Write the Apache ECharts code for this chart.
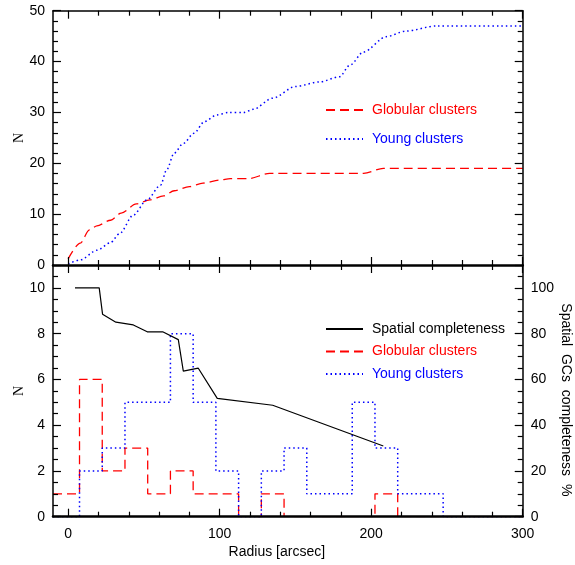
<!DOCTYPE html>
<html>
<head>
<meta charset="utf-8">
<script src="https://cdn.jsdelivr.net/npm/echarts@6/dist/echarts.min.js"></script>
<style>html,body{margin:0;padding:0;background:#fff;}#c{width:575px;height:565px;}</style>
</head>
<body>
<div id="c"></div>
<script>
// ---- data ----
var xMin = -10, xMax = 300;
// top panel: cumulative numbers vs radius
var globCumX = [0, 8, 14, 19, 28, 35, 45, 54, 63, 70, 80, 89, 100, 107, 119, 133, 195, 208, 300];
var globCumY = [1.2, 4.3, 6.9, 7.7, 8.8, 10.2, 12.0, 12.8, 13.6, 14.6, 15.4, 16.1, 16.7, 17.0, 17.0, 18.0, 18.0, 19.0, 19.0];
var youngCumX = [0, 8, 19, 28, 34, 43, 52, 61, 65, 70, 76, 83, 90, 98, 106, 116, 122, 135, 150, 166, 179, 186, 195, 210, 223, 243, 300];
var youngCumY = [0.2, 1.0, 2.9, 4.4, 6.2, 9.8, 12.8, 15.7, 18.7, 22.0, 23.9, 25.9, 28.2, 29.5, 30.0, 30.0, 30.6, 32.8, 35.1, 36.0, 37.0, 39.3, 41.9, 44.9, 46.0, 47.0, 47.0];
// bottom panel: histograms (bin centres, width 15)
var binCenters = [0, 15, 30, 45, 60, 75, 90, 105, 120, 135, 150, 165, 180, 195, 210, 225, 240, 255, 270, 285, 300];
var globCounts = [1, 6, 2, 3, 1, 2, 1, 1, 0, 1, 0, 0, 0, 0, 1, 0, 0, 0, 0, 0, 0];
var youngCounts = [0, 2, 3, 5, 5, 8, 5, 2, 0, 2, 3, 1, 1, 5, 3, 1, 1, 0, 0, 0, 0];
// spatial completeness (%)
var compX = [4.5, 20.5, 22.7, 31.5, 43, 52.2, 62.4, 72.7, 76, 85.9, 98.4, 135, 208];
var compPct = [100, 100, 88.5, 85, 83.8, 80.8, 80.8, 77.4, 63.6, 64.9, 51.7, 48.7, 30.9];
// ticks
var xMajor = [0, 100, 200, 300];
var xMinor = [20, 40, 60, 80, 120, 140, 160, 180, 220, 240, 260, 280];
var topYMajor = [0, 10, 20, 30, 40, 50];
var topYMinor = [2, 4, 6, 8, 12, 14, 16, 18, 22, 24, 26, 28, 32, 34, 36, 38, 42, 44, 46, 48];
var botYMajor = [0, 2, 4, 6, 8, 10];
var botYMinor = [0.5, 1, 1.5, 2.5, 3, 3.5, 4.5, 5, 5.5, 6.5, 7, 7.5, 8.5, 9, 9.5, 10.5];
var pctMajor = [0, 20, 40, 60, 80, 100];
var pctMinor = [5, 10, 15, 25, 30, 35, 45, 50, 55, 65, 70, 75, 85, 90, 95, 105];

// ---- helpers ----
function pairs(xs, ys) { return xs.map(function (x, i) { return [x, ys[i]]; }); }
var FONT = "'Liberation Sans', Arial, Helvetica, sans-serif";

function axis(o) {
  var a = {
    type: 'value', gridIndex: o.grid, position: o.pos, min: o.min, max: o.max,
    axisLine: { show: !!o.line, onZero: false, lineStyle: { color: '#000', width: o.line || 1 } },
    axisTick: { show: true, inside: true, length: o.len, customValues: o.ticks, lineStyle: { color: '#000', width: 1.2 } },
    axisLabel: { show: false },
    splitLine: { show: false },
    z: 5
  };
  if (o.labels) {
    a.axisLabel = { show: true, customValues: o.labels, margin: 8, color: '#000', fontSize: 14, fontFamily: FONT };
  }
  if (o.name) {
    a.name = o.name; a.nameLocation = 'middle'; a.nameGap = o.nameGap;
    a.nameMoveOverlap = false;
    a.nameTextStyle = o.nameStyle;
    if (o.nameRotate !== undefined) a.nameRotate = o.nameRotate;
  }
  return a;
}

var xAxes = [
  axis({ grid: 0, pos: 'bottom', min: xMin, max: xMax, line: 2.5, ticks: xMinor, len: 5 }),
  axis({ grid: 0, pos: 'bottom', min: xMin, max: xMax, ticks: xMajor, len: 8 }),
  axis({ grid: 0, pos: 'top', min: xMin, max: xMax, line: 1.5, ticks: xMinor, len: 5 }),
  axis({ grid: 0, pos: 'top', min: xMin, max: xMax, ticks: xMajor, len: 8 }),
  axis({ grid: 1, pos: 'bottom', min: xMin, max: xMax, line: 2.5, ticks: xMinor, len: 5 }),
  axis({ grid: 1, pos: 'bottom', min: xMin, max: xMax, ticks: xMajor, len: 8, labels: xMajor,
         name: 'Radius [arcsec]', nameGap: 28, nameStyle: { color: '#000', fontSize: 14, fontFamily: FONT, padding: [0, 22, 0, 0] } }),
  axis({ grid: 1, pos: 'top', min: xMin, max: xMax, ticks: xMinor, len: 5 }),
  axis({ grid: 1, pos: 'top', min: xMin, max: xMax, ticks: xMajor, len: 8 })
];
xAxes[5].axisLabel.margin = 10;

var nStyle = { color: '#000', fontSize: 14, fontFamily: "'Liberation Serif', 'Times New Roman', serif" };
var yAxes = [
  axis({ grid: 0, pos: 'left', min: 0, max: 50, line: 1.5, ticks: topYMinor, len: 5 }),
  axis({ grid: 0, pos: 'left', min: 0, max: 50, ticks: topYMajor, len: 8, labels: topYMajor,
         name: 'N', nameGap: 27, nameStyle: nStyle }),
  axis({ grid: 0, pos: 'right', min: 0, max: 50, line: 1.5, ticks: topYMinor, len: 5 }),
  axis({ grid: 0, pos: 'right', min: 0, max: 50, ticks: topYMajor, len: 8 }),
  axis({ grid: 1, pos: 'left', min: 0, max: 11, line: 1.5, ticks: botYMinor, len: 5 }),
  axis({ grid: 1, pos: 'left', min: 0, max: 11, ticks: botYMajor, len: 8, labels: botYMajor,
         name: 'N', nameGap: 27, nameStyle: nStyle }),
  axis({ grid: 1, pos: 'right', min: 0, max: 110, line: 1.5, ticks: pctMinor, len: 5 }),
  axis({ grid: 1, pos: 'right', min: 0, max: 110, ticks: pctMajor, len: 8, labels: pctMajor,
         name: 'Spatial  GCs  completeness  %', nameGap: 36, nameRotate: -90,
         nameStyle: { color: '#000', fontSize: 14, fontFamily: FONT, padding: [0, 0, 0, 18] } })
];

var RED = '#ff0000', BLUE = '#0000ff';
var redLine = { color: RED, width: 1.3, type: [9, 5] };
var blueLine = { color: BLUE, width: 1.5, type: [1.5, 3] };

function histData(counts) {
  return [[xMin, counts[0]]].concat(pairs(binCenters, counts));
}

var legendBase = {
  left: 325, orient: 'vertical', itemWidth: 37, itemHeight: 14, padding: 0,
  selectedMode: false, itemStyle: { opacity: 0 },
  textStyle: { fontSize: 14, fontFamily: FONT, padding: [0, 0, 0, 4] }
};

var option = {
  animation: false,
  backgroundColor: '#fff',
  grid: [
    { left: 53, right: 52.3, top: 10.7, height: 254.3, outerBoundsMode: 'none', containLabel: false },
    { left: 53, right: 52.3, top: 265, height: 251.7, outerBoundsMode: 'none', containLabel: false }
  ],
  xAxis: xAxes,
  yAxis: yAxes,
  legend: [
    Object.assign({}, legendBase, { top: 103, itemGap: 15,
      data: [ { name: 'Globular clusters', textStyle: { color: RED } },
              { name: 'Young clusters', textStyle: { color: BLUE } } ] }),
    Object.assign({}, legendBase, { top: 322, itemGap: 8.5,
      data: [ { name: 'Spatial completeness', textStyle: { color: '#000' } },
              { name: 'Globular clusters', textStyle: { color: RED } },
              { name: 'Young clusters', textStyle: { color: BLUE } } ] })
  ],
  series: [
    { name: 'Globular clusters', type: 'line', xAxisIndex: 0, yAxisIndex: 0, data: pairs(globCumX, globCumY),
      showSymbol: false, symbol: 'none', smooth: 0.3, smoothMonotone: 'x', lineStyle: redLine, itemStyle: { color: RED } },
    { name: 'Young clusters', type: 'line', xAxisIndex: 0, yAxisIndex: 0, data: pairs(youngCumX, youngCumY),
      showSymbol: false, symbol: 'none', smooth: 0.3, smoothMonotone: 'x', lineStyle: blueLine, itemStyle: { color: BLUE } },
    { name: 'Globular clusters', type: 'line', xAxisIndex: 4, yAxisIndex: 4, data: histData(globCounts),
      step: 'middle', showSymbol: false, symbol: 'none', lineStyle: redLine, itemStyle: { color: RED } },
    { name: 'Young clusters', type: 'line', xAxisIndex: 4, yAxisIndex: 4, data: histData(youngCounts),
      step: 'middle', showSymbol: false, symbol: 'none', lineStyle: blueLine, itemStyle: { color: BLUE } },
    { name: 'Spatial completeness', type: 'line', xAxisIndex: 4, yAxisIndex: 6, data: pairs(compX, compPct),
      showSymbol: false, symbol: 'none', lineStyle: { color: '#000', width: 1.2 }, itemStyle: { color: '#000' } }
  ]
};

var chart = echarts.init(document.getElementById('c'), null, { renderer: 'canvas' });
chart.setOption(option);
</script>
</body>
</html>
